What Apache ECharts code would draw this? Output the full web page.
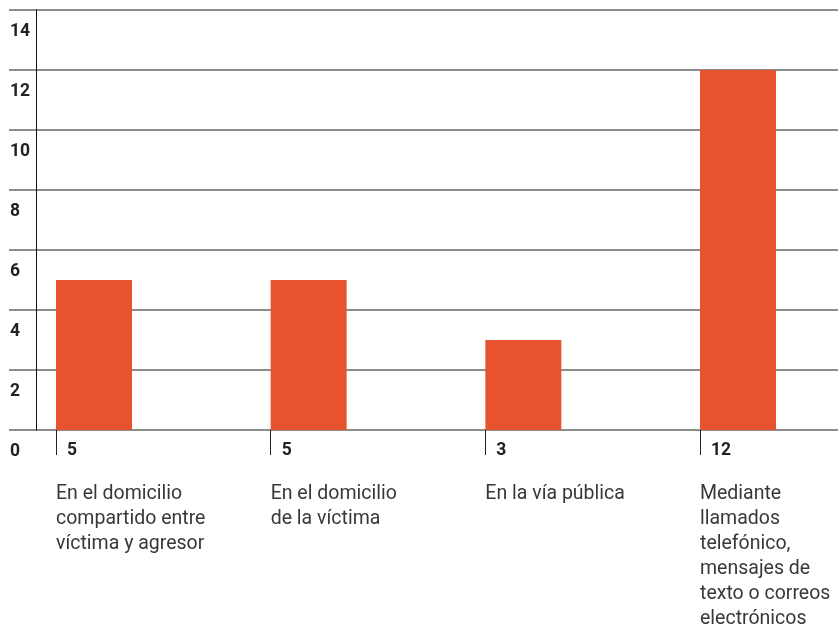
<!DOCTYPE html>
<html>
<head>
<meta charset="utf-8">
<script src="https://cdn.jsdelivr.net/npm/echarts@6/dist/echarts.min.js"></script>
<style>
	html, body { margin: 0; padding: 0; background: #fff; }
	#main { width: 838px; height: 633px; }
</style>
</head>
<body>
<div id="main"></div>
<script>
var categories = [
	"En el domicilio\ncompartido entre\nvíctima y agresor",
	"En el domicilio\nde la víctima",
	"En la vía pública",
	"Mediante\nllamados\ntelefónico,\nmensajes de\ntexto o correos\nelectrónicos"
];
var values = [5, 5, 3, 12];
var yTicks = [0, 2, 4, 6, 8, 10, 12, 14];

var barColor = "#e8532f";
var font = "Roboto, 'Noto Sans', sans-serif";

var chartPage = {
	init: function() {
		this.chart = echarts.init(document.getElementById('main'), null, { renderer: 'canvas' });
		this.chart.setOption(this.getOption());
	},
	getOption: function() {
		var yMax = yTicks[yTicks.length - 1];
		var yStep = yTicks[1] - yTicks[0];
		return {
			animation: false,
			textStyle: { fontFamily: font },
			grid: [
				// grid lines across the whole width
				{ left: 9, right: 0, top: 10, bottom: 203 },
				// bars, ticks and labels
				{ left: 56, right: 138, top: 10, bottom: 203 }
			],
			xAxis: [{
				gridIndex: 0,
				type: 'category',
				data: categories,
				show: false
			}, {
				gridIndex: 1,
				type: 'category',
				data: categories,
				boundaryGap: false,
				axisLine: { show: false },
				axisTick: {
					show: true,
					length: 25,
					lineStyle: { color: '#222', width: 1 }
				},
				axisLabel: {
					interval: 0,
					align: 'left',
					verticalAlign: 'top',
					margin: 52,
					fontSize: 19.5,
					lineHeight: 25,
					color: '#383838',
					fontFamily: font
				}
			}],
			yAxis: [{
				gridIndex: 0,
				type: 'value',
				min: 0,
				max: yMax,
				interval: yStep,
				axisLine: { show: false },
				axisTick: { show: false },
				axisLabel: { show: false },
				splitLine: {
					show: true,
					lineStyle: { color: '#666', width: 1.5 }
				}
			}, {
				gridIndex: 1,
				type: 'value',
				min: 0,
				max: yMax,
				interval: yStep,
				offset: 20,
				axisLine: {
					show: true,
					lineStyle: { color: '#111', width: 1 }
				},
				axisTick: { show: false },
				splitLine: { show: false },
				axisLabel: {
					align: 'left',
					verticalAlign: 'top',
					margin: 26,
					lineHeight: 43,
					fontSize: 17.5,
					fontWeight: 'bold',
					color: '#222',
					fontFamily: font
				}
			}],
			series: [{
				// empty slot so the real bar starts at the tick
				type: 'bar',
				xAxisIndex: 1,
				yAxisIndex: 1,
				data: values.map(function() { return null; }),
				barWidth: 76,
				barGap: 0,
				silent: true
			}, {
				type: 'bar',
				xAxisIndex: 1,
				yAxisIndex: 1,
				data: values,
				barWidth: 76,
				barGap: 0,
				clip: false,
				itemStyle: { color: barColor },
				label: {
					show: true,
					position: [11, '100%'],
					offset: [0, 12],
					fontSize: 17.5,
					fontWeight: 'bold',
					color: '#222',
					fontFamily: font
				}
			}]
		};
	}
};
chartPage.init();
</script>
</body>
</html>
